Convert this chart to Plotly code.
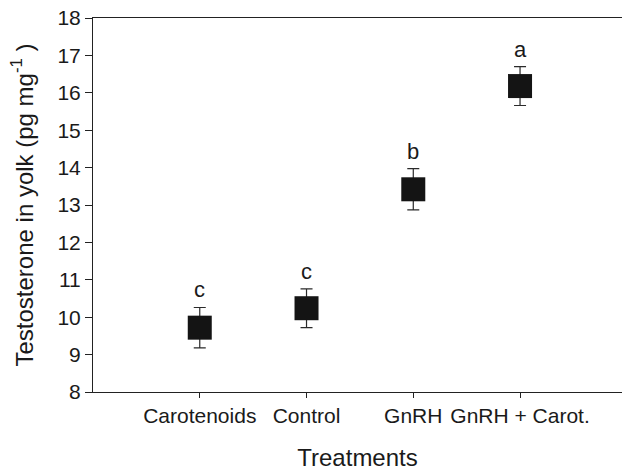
import plotly.graph_objects as go

treatments = ["Carotenoids", "Control", "GnRH", "GnRH + Carot."]
means = [9.72, 10.24, 13.42, 16.18]
sem = [0.54, 0.52, 0.55, 0.52]
letters = ["c", "c", "b", "a"]

FONT = "Liberation Sans, Arial, Helvetica, sans-serif"
INK = "#1a1a1a"

fig = go.Figure()
fig.add_trace(go.Scatter(
    x=treatments, y=means, mode="markers",
    marker=dict(symbol="square", size=24, color="#141414", line=dict(width=0)),
    error_y=dict(type="data", array=sem, visible=True, color="#2a2a2a",
                 thickness=1.2, width=6),
    showlegend=False, hoverinfo="skip",
))

for t, m, s, l in zip(treatments, means, sem, letters):
    fig.add_annotation(x=t, y=m + s, text=l, showarrow=False,
                       yanchor="bottom", yshift=3,
                       font=dict(family=FONT, size=22, color=INK))

fig.update_layout(
    width=622, height=474,
    margin=dict(l=93, r=0, t=18, b=82),
    paper_bgcolor="white", plot_bgcolor="white",
    font=dict(family=FONT, color=INK),
    xaxis=dict(
        type="category", range=[-1, 3.955],
        showline=True, linecolor="#222222", linewidth=1, mirror=True,
        ticks="outside", ticklen=5, tickcolor="#222222", tickwidth=1,
        showgrid=False, zeroline=False,
        tickfont=dict(family=FONT, size=21, color=INK),
        title=dict(text="Treatments", font=dict(family=FONT, size=24, color=INK),
                   standoff=22),
    ),
    yaxis=dict(
        range=[8, 18], dtick=1,
        showline=True, linecolor="#222222", linewidth=1, mirror=False,
        ticks="outside", ticklen=7, tickcolor="#222222", tickwidth=1,
        showgrid=False, zeroline=False,
        tickfont=dict(family=FONT, size=21, color=INK),
        title=dict(text="Testosterone in yolk (pg mg<sup>-1</sup> )",
                   font=dict(family=FONT, size=24, color=INK), standoff=17),
    ),
)

fig.write_html("out.html")
